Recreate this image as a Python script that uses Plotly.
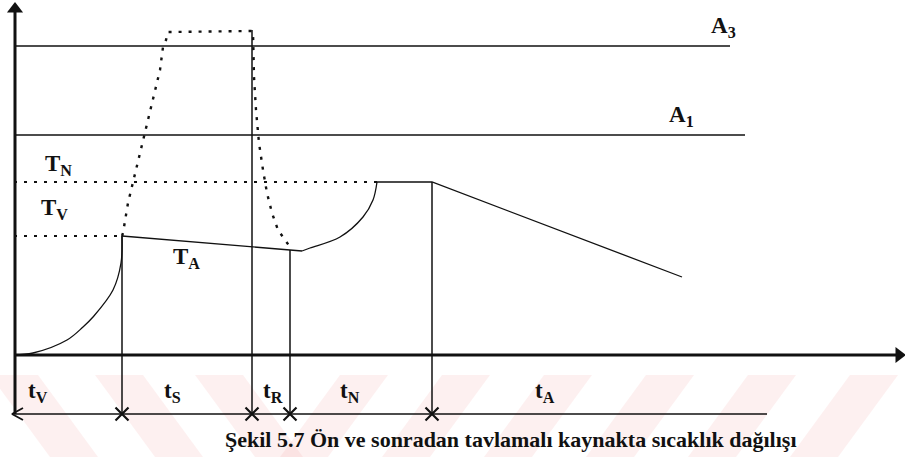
import plotly.graph_objects as go

# ---- data (time in arbitrary units, temperature in arbitrary units) ----
A3_level = 309
A1_level = 220
TN_level = 173
TV_level = 119

# phase boundaries on the time axis
t_bounds = [0, 108, 238, 276, 418]
bracket_end = 753

# preheating curve (solid)
heat_t = [0, 19, 53, 69, 79, 99, 107, 108]
heat_T = [0, 2, 15, 28, 38, 65, 92, 119]

# interpass temperature drop T_A
ta_t = [108, 288]
ta_T = [119, 104]

# post heating: reheat curve up to T_N
reheat_t = [288, 296, 326, 349, 359, 363]
reheat_T = [104, 107, 118, 138, 155, 173]

# hold at T_N, then cooling
hold_t = [363, 418, 668]
hold_T = [173, 173, 78]

# weld thermal cycle (dotted)
weld_t = [108, 109, 114, 119, 130, 139, 146, 149, 152, 154, 238,
          239, 240, 242, 245, 249, 253, 258, 264, 276]
weld_T = [119, 122, 152, 173, 220, 255, 285, 308, 315, 323, 324,
          323, 278, 245, 212, 185, 162, 142, 125, 108]

# vertical markers: (time, top temperature)
vline_t = [108, 238, 276, 418]
vline_top = [119, 325, 105, 173]

phase_labels = ["t<sub>V</sub>", "t<sub>S</sub>", "t<sub>R</sub>", "t<sub>N</sub>", "t<sub>A</sub>"]
phase_label_t = [24, 158, 259, 336, 531]

level_labels = ["A<sub>3</sub>", "A<sub>1</sub>", "T<sub>N</sub>", "T<sub>V</sub>", "T<sub>A</sub>"]
level_label_t = [709, 667, 44, 40, 172]
level_label_T = [328, 239, 190, 146, 97]

caption = "Şekil 5.7 Ön ve sonradan tavlamalı kaynakta sıcaklık dağılışı"

BRACKET_T = -59
FONT = "Liberation Serif"
INK = "#111111"

fig = go.Figure()

def line(x, y, width=1.4, dash=None, shape="linear"):
    fig.add_trace(go.Scatter(
        x=x, y=y, mode="lines", hoverinfo="skip",
        line=dict(color=INK, width=width, dash=dash, shape=shape),
    ))

# critical temperature lines
line([0, 716], [A3_level, A3_level], 1.3)
line([0, 731], [A1_level, A1_level], 1.3)

# dotted reference levels
line([0, reheat_t[-1]], [TN_level, TN_level], 2.2, "3px,7px")
line([0, t_bounds[1]], [TV_level, TV_level], 2.2, "3px,7px")

# weld cycle
line(weld_t, weld_T, 2.4, "3px,7px")

# solid temperature history
line(heat_t, heat_T, 1.3, shape="spline")
line(ta_t, ta_T, 1.3)
line(reheat_t, reheat_T, 1.3, shape="spline")
line(hold_t, hold_T, 1.3)

# phase boundaries
for t, top in zip(vline_t, vline_top):
    line([t, t], [top, BRACKET_T], 1.5)

# axes
line([1, 1], [BRACKET_T, 345], 3)
line([0, 884], [0, 0], 3)
fig.add_trace(go.Scatter(x=[1], y=[346], mode="markers", hoverinfo="skip",
                         marker=dict(symbol="triangle-up", size=14, color=INK)))
fig.add_trace(go.Scatter(x=[885], y=[0], mode="markers", hoverinfo="skip",
                         marker=dict(symbol="triangle-right", size=14, color=INK)))

# time bracket with crosses and left arrow
line([-2, bracket_end], [BRACKET_T, BRACKET_T], 1.5)
line([9, -2, 9], [BRACKET_T + 6, BRACKET_T, BRACKET_T - 6], 1.8)
fig.add_trace(go.Scatter(
    x=t_bounds[1:], y=[BRACKET_T] * 4, mode="markers", hoverinfo="skip",
    marker=dict(symbol="x-thin", size=13, line=dict(color=INK, width=2.2)),
))

# labels
for txt, t, T in zip(level_labels, level_label_t, level_label_T):
    fig.add_annotation(x=t, y=T, text="<b>" + txt + "</b>", showarrow=False,
                       font=dict(family=FONT, size=23, color=INK))
for txt, t in zip(phase_labels, phase_label_t):
    fig.add_annotation(x=t, y=-37, text="<b>" + txt + "</b>", showarrow=False,
                       font=dict(family=FONT, size=23, color=INK))
fig.add_annotation(x=511 / 905, y=1 - 439 / 457, xref="paper", yref="paper",
                   yanchor="middle", xanchor="center",
                   text="<b>" + caption + "</b>", showarrow=False,
                   font=dict(family=FONT, size=22, color=INK))

# faint diagonal watermark band along the bottom
W, H = 905, 457
band_top, band_bot = 375, 457
shapes = []

def stripe(x0, width, shift):
    pts = [(x0, band_top), (x0 + width, band_top),
           (x0 + width + shift, band_bot), (x0 + shift, band_bot)]
    path = "M " + " L ".join(f"{x / W:.4f},{1 - y / H:.4f}" for x, y in pts) + " Z"
    shapes.append(dict(type="path", path=path, xref="paper", yref="paper",
                       fillcolor="rgba(240,150,150,0.14)", line=dict(width=0),
                       layer="below"))

for x0 in [-10, 95, 195]:
    stripe(x0, 48, 60)
for x0 in [340, 442, 544, 646, 748, 850]:
    stripe(x0, 48, -60)

fig.update_layout(
    width=W, height=H, autosize=False,
    margin=dict(l=0, r=0, t=0, b=0),
    paper_bgcolor="white", plot_bgcolor="white",
    showlegend=False, shapes=shapes,
    xaxis=dict(range=[-14, 891], visible=False, fixedrange=True),
    yaxis=dict(range=[-102, 355], visible=False, fixedrange=True),
)

fig.write_html("out.html")
